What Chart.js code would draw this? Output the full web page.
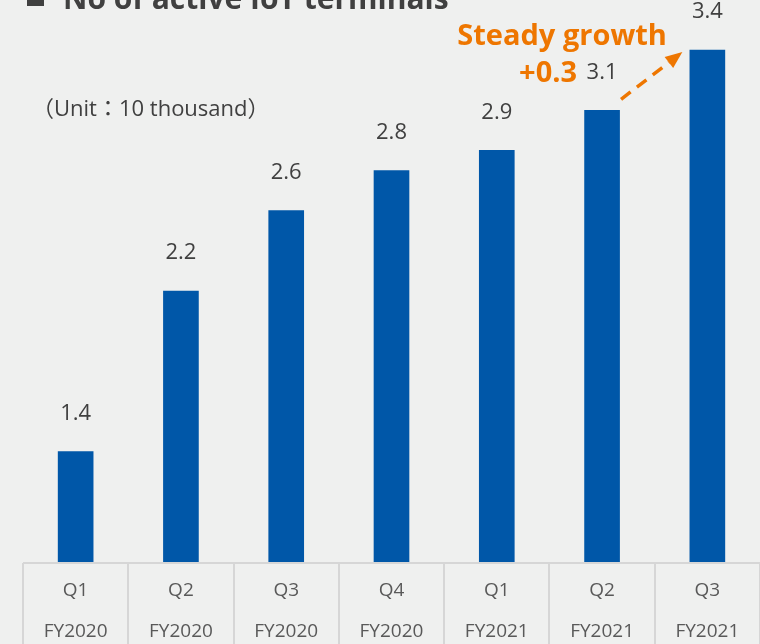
<!DOCTYPE html>
<html>
<head>
<meta charset="utf-8">
<script src="https://cdn.jsdelivr.net/npm/chart.js@4.4.0/dist/chart.umd.min.js"></script>
<style>
body { margin: 0; background: #eff0ef; }
#wrap { position: relative; width: 760px; height: 644px; overflow: hidden; background: #eff0ef; }
#title { position: absolute; left: 27px; top: -23px; font: bold 30px "Open Sans", sans-serif; color: #404040; white-space: nowrap; }
#title .mark { display: inline-block; width: 17px; height: 17px; background: #404040; margin-right: 19px; vertical-align: 3px; }
#unit { position: absolute; left: 32px; top: 90px; font: 22px "Open Sans", "Noto Sans CJK TC", sans-serif; color: #404040; white-space: nowrap; }
canvas { position: absolute; left: 0; top: 0; }
</style>
</head>
<body>
<div id="wrap">
  <canvas id="iotChart" width="760" height="644"></canvas>
  <div id="title"><span class="mark"></span>No of active IoT terminals</div>
  <div id="unit">（Unit：10 thousand）</div>
</div>
<script>
var quarters = ["Q1", "Q2", "Q3", "Q4", "Q1", "Q2", "Q3"];
var fiscalYears = ["FY2020", "FY2020", "FY2020", "FY2020", "FY2021", "FY2021", "FY2021"];
var terminals = [1.4, 2.2, 2.6, 2.8, 2.9, 3.1, 3.4];
var growthNote = ["Steady growth", "+0.3"];

var labels = quarters.map(function (q, i) {
    return [q, fiscalYears[i]];
});

// value labels, growth arrow and the table lines under the bars
var extras = {
    id: "extras",
    afterDatasetsDraw: function (chart) {
        var ctx = chart.ctx;
        var bars = chart.getDatasetMeta(0).data;
        var area = chart.chartArea;

        ctx.save();

        // table grid
        ctx.strokeStyle = "#d6d6d6";
        ctx.lineWidth = 2;
        ctx.beginPath();
        ctx.moveTo(area.left, area.bottom + 1);
        ctx.lineTo(chart.width, area.bottom + 1);
        var step = (area.right - area.left) / labels.length;
        for (var i = 0; i <= labels.length; i++) {
            var gx = Math.round(area.left + i * step);
            ctx.moveTo(gx, area.bottom + 1);
            ctx.lineTo(gx, chart.height);
        }
        ctx.stroke();

        // numbers above bars
        ctx.fillStyle = "#404040";
        ctx.font = "22px 'Open Sans', sans-serif";
        ctx.textAlign = "center";
        ctx.textBaseline = "middle";
        bars.forEach(function (bar, i) {
            ctx.fillText(terminals[i].toFixed(1), bar.x, bar.y - 38);
        });

        // growth note
        var b6 = bars[5], b7 = bars[6];
        ctx.fillStyle = "#ee7600";
        ctx.font = "bold 29px 'Open Sans', sans-serif";
        ctx.textBaseline = "alphabetic";
        ctx.fillText(growthNote[0], b6.x - 40, b7.y - 5);
        ctx.fillText(growthNote[1], b6.x - 54, b7.y + 32);

        // dashed arrow
        var sx = b6.x + 19, sy = b6.y - 11;
        var ex = b7.x - 25, ey = b7.y + 2;
        var ang = Math.atan2(ey - sy, ex - sx);
        var headLen = 17;
        var lx = ex - headLen * Math.cos(ang), ly = ey - headLen * Math.sin(ang);
        ctx.strokeStyle = "#ee7600";
        ctx.lineWidth = 3.5;
        ctx.setLineDash([12, 8]);
        ctx.beginPath();
        ctx.moveTo(sx, sy);
        ctx.lineTo(lx, ly);
        ctx.stroke();
        ctx.setLineDash([]);
        ctx.beginPath();
        ctx.moveTo(ex, ey);
        ctx.lineTo(lx + 7 * Math.sin(ang), ly - 7 * Math.cos(ang));
        ctx.lineTo(lx - 7 * Math.sin(ang), ly + 7 * Math.cos(ang));
        ctx.closePath();
        ctx.fillStyle = "#ee7600";
        ctx.fill();

        ctx.restore();
    }
};

var iotChart = new Chart(document.getElementById("iotChart").getContext("2d"), {
    type: "bar",
    data: {
        labels: labels,
        datasets: [{
            label: "Active IoT terminals",
            data: terminals,
            backgroundColor: "#0057a8",
            barThickness: 35
        }]
    },
    options: {
        responsive: false,
        animation: false,
        devicePixelRatio: 1,
        layout: {
            padding: { left: 23, right: 0, top: 30, bottom: 0 }
        },
        plugins: {
            legend: { display: false },
            tooltip: { enabled: false }
        },
        scales: {
            y: {
                display: false,
                min: 0.85,
                max: 3.5
            },
            x: {
                grid: { display: false },
                border: { display: false },
                ticks: {
                    color: "#595959",
                    padding: 0,
                    font: { family: "'Open Sans', sans-serif", size: 19, lineHeight: "41px" }
                },
                afterFit: function (scale) {
                    scale.height = 82;
                }
            }
        }
    },
    plugins: [extras]
});
</script>
</body>
</html>
